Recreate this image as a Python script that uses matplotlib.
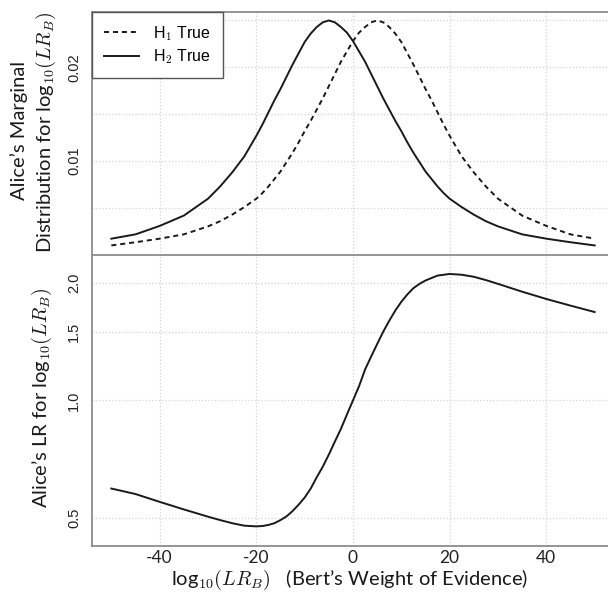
import matplotlib
matplotlib.use("Agg")
import matplotlib.pyplot as plt
from matplotlib.ticker import FixedLocator, FixedFormatter, NullLocator
from matplotlib.lines import Line2D

plt.rcParams['mathtext.fontset'] = 'cm'

# ------------------------- data -------------------------

woe = [-50, -45, -40, -35, -30, -27.5, -25, -22.5,
       -20, -18.75, -17.5, -16.25, -15, -13.75, -12.5, -11.25, -10, -8.75, -7.5, -6.25,
       -5, -3.75, -2.5, -1.25, 0, 1.25, 2.5, 3.75, 5, 6.25, 7.5, 8.75, 10, 11.25, 12.5,
       13.75, 15, 16.25, 17.5, 18.75, 20,
       22.5, 25, 27.5, 30, 35, 40, 45, 50]

h1_true = [0.00102, 0.00136, 0.00174, 0.0022, 0.00305, 0.0036, 0.0043, 0.0051,
           0.0060, 0.0066, 0.0073, 0.0081, 0.0089, 0.0099, 0.0109, 0.0120, 0.0132, 0.0143, 0.0155, 0.0167,
           0.0180, 0.0193, 0.0206, 0.0217, 0.0228, 0.0237, 0.0243, 0.0248, 0.0250, 0.0248, 0.0243,
           0.0236, 0.0227, 0.0215, 0.0203, 0.0190, 0.0177, 0.0165, 0.0152, 0.0139, 0.0127,
           0.0105, 0.0088, 0.0073, 0.0060, 0.0042, 0.0031, 0.0022, 0.00174]

h2_true = [0.00174, 0.0022, 0.0031, 0.0042, 0.0060, 0.0073, 0.0088, 0.0105,
           0.0127, 0.0139, 0.0152, 0.0165, 0.0177, 0.0190, 0.0203, 0.0215, 0.0227, 0.0236, 0.0243, 0.0248,
           0.0250, 0.0248, 0.0243, 0.0237, 0.0228, 0.0217, 0.0206, 0.0193, 0.0180, 0.0167, 0.0155,
           0.0143, 0.0132, 0.0120, 0.0109, 0.0099, 0.0089, 0.0081, 0.0073, 0.0066, 0.0060,
           0.0051, 0.0043, 0.0036, 0.00305, 0.0022, 0.00174, 0.00136, 0.00102]

alice_lr = [0.594, 0.575, 0.549, 0.525, 0.503, 0.493, 0.484, 0.477,
            0.475, 0.476, 0.479, 0.484, 0.493, 0.504, 0.520, 0.540, 0.563, 0.594, 0.635, 0.676,
            0.726, 0.784, 0.845, 0.920, 1.0, 1.087, 1.20, 1.295, 1.395, 1.50, 1.60,
            1.70, 1.79, 1.87, 1.94, 1.99, 2.03, 2.06, 2.09, 2.10, 2.11,
            2.10, 2.075, 2.035, 1.99, 1.90, 1.82, 1.75, 1.685]

x_ticks = [-40, -20, 0, 20, 40]
x_tick_labels = ['-40', '-20', '0', '20', '40']
top_ticks = [0.01, 0.02]
top_tick_labels = ['0.01', '0.02']
top_minor = [0.005, 0.015, 0.025]
lr_ticks = [0.5, 1.0, 1.5, 2.0]
lr_tick_labels = ['0.5', '1.0', '1.5', '2.0']

# ------------------------- figure ---------------------------------------------

W, H = 608, 594
fig = plt.figure(figsize=(W / 100, H / 100), dpi=100)

def box(l, t, r, b):
    return [l / W, 1 - b / H, (r - l) / W, (b - t) / H]

ax1 = fig.add_axes(box(92, 12, 614, 255))
ax2 = fig.add_axes(box(92, 255, 614, 546))

spine_col = '#8c8c8c'
grid_col = '#d4d4d4'
line_col = '#1a1a1a'
dashes = (0, (2.6, 2.0))

for ax in (ax1, ax2):
    ax.set_xlim(-54, 54)
    for s in ax.spines.values():
        s.set_color(spine_col)
        s.set_linewidth(1.3)
    ax.spines['right'].set_visible(False)
    ax.tick_params(which='both', length=0)
    ax.xaxis.set_major_locator(FixedLocator(x_ticks))
    ax.grid(which='both', color=grid_col, linestyle=':', linewidth=0.9)
    ax.set_axisbelow(True)

# top panel
ax1.plot(woe, h1_true, color=line_col, lw=1.4, ls=dashes)
ax1.plot(woe, h2_true, color=line_col, lw=1.4)
ax1.set_ylim(0, 0.0259)
ax1.yaxis.set_major_locator(FixedLocator(top_ticks))
ax1.yaxis.set_major_formatter(FixedFormatter(top_tick_labels))
ax1.yaxis.set_minor_locator(FixedLocator(top_minor))
ax1.set_xticklabels([])
ax1.spines['bottom'].set_visible(False)

handles = [Line2D([], [], color=line_col, lw=1.4, ls=dashes),
           Line2D([], [], color=line_col, lw=1.4)]
leg = ax1.legend(handles, [r'H$_\mathsf{1}$ True', r'H$_\mathsf{2}$ True'],
                 loc='upper left', bbox_to_anchor=(0, 1), borderaxespad=0,
                 fancybox=False, framealpha=1, edgecolor='#555555',
                 prop=dict(family='Liberation Sans', size=11.5),
                 handlelength=2.2, handletextpad=0.9, borderpad=0.75, labelspacing=0.3)
leg.get_frame().set_linewidth(1.0)

# bottom panel
ax2.plot(woe, alice_lr, color=line_col, lw=1.4)
ax2.set_yscale('log')
ax2.set_ylim(0.423, 2.36)
ax2.yaxis.set_major_locator(FixedLocator(lr_ticks))
ax2.yaxis.set_major_formatter(FixedFormatter(lr_tick_labels))
ax2.yaxis.set_minor_locator(NullLocator())
ax2.xaxis.set_major_formatter(FixedFormatter(x_tick_labels))

for ax in (ax1, ax2):
    for lab in ax.get_yticklabels():
        lab.set_rotation(90)
        lab.set_va('center')
        lab.set_fontfamily('Liberation Sans')
        lab.set_fontsize(10.5)
        lab.set_color('#222222')
    ax.tick_params(axis='y', pad=8)

for lab in ax2.get_xticklabels():
    lab.set_fontfamily('Lato')
    lab.set_fontsize(12.5)
    lab.set_color('#222222')
ax2.tick_params(axis='x', pad=3)

# axis titles
lab_font = dict(family='Lato', size=14.5, color='#1a1a1a')
fig.text(19 / W, 1 - 130 / H, 'Alice’s Marginal', rotation=90, ha='center', va='center', **lab_font)
fig.text(46 / W, 1 - 132 / H, r'Distribution for log$_\mathsf{10}(LR_B)$', rotation=90,
         ha='center', va='center', **lab_font)
fig.text(42 / W, 1 - 398 / H, r'Alice’s LR for log$_\mathsf{10}(LR_B)$', rotation=90,
         ha='center', va='center', **lab_font)
fig.text(350 / W, 1 - 580 / H, r'log$_\mathsf{10}(LR_B)$   (Bert’s Weight of Evidence)',
         ha='center', va='center', **lab_font)

fig.savefig('out.png', dpi=100)
